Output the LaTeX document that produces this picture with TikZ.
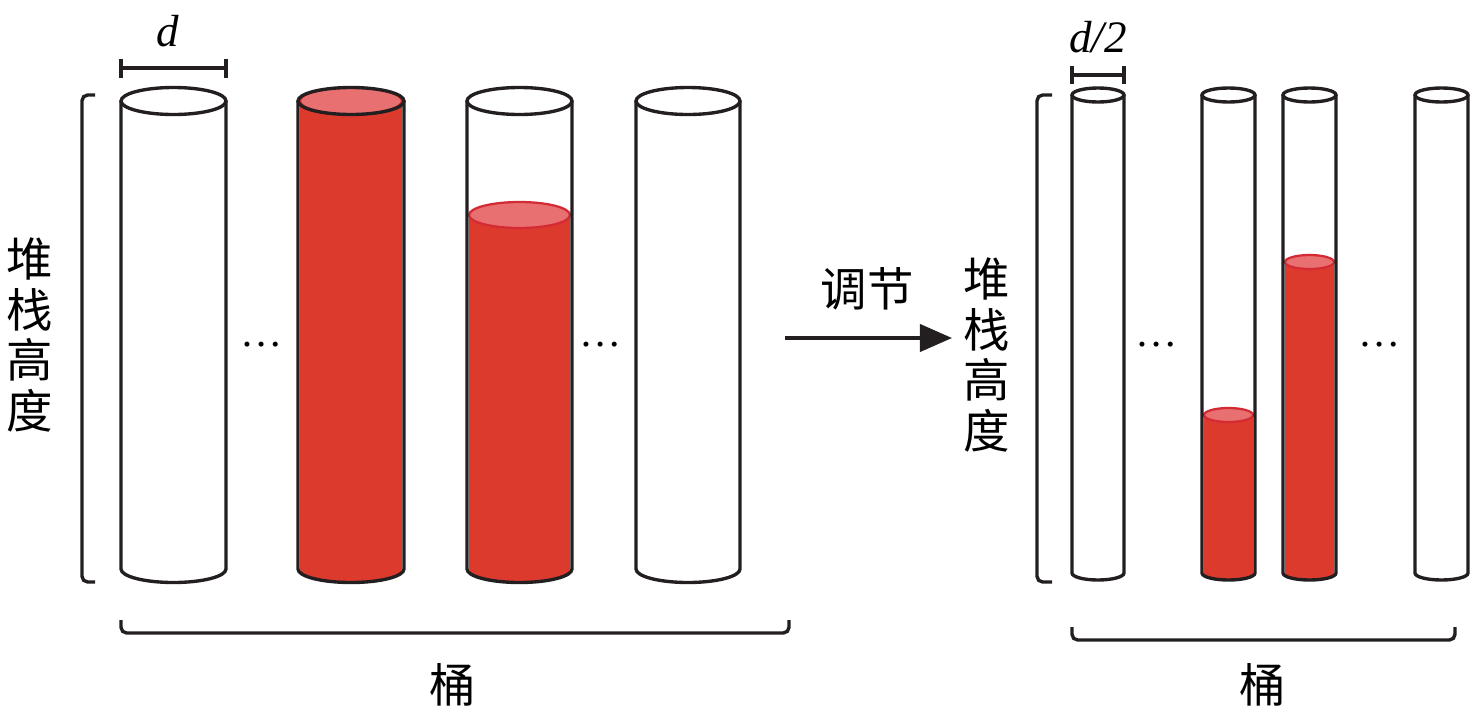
\documentclass[tikz,border=0pt]{standalone}
\usepackage{fontspec}
\newfontfamily\cjk{Noto Sans CJK SC}
\newfontfamily\tnr{Liberation Serif}
\usetikzlibrary{arrows.meta,positioning}

\definecolor{ink}{RGB}{35,31,32}
\definecolor{tubered}{RGB}{221,58,46}
\definecolor{tubetop}{RGB}{232,112,112}
\definecolor{tubeedge}{RGB}{212,42,52}

% tube outline: left x, width, y radius, top y, bottom y
\newcommand{\tube}[5]{%
  \draw[tubeline] (#1,#4) -- (#1,#5) arc[start angle=180,end angle=0,x radius=#2/2,y radius=#3] -- (#1+#2,#4);
  \draw[tubeline] (#1+#2/2,#4) ellipse[x radius=#2/2,y radius=#3];}
% red content: left x, width, y radius, level y, bottom y
\newcommand{\liquid}[5]{%
  \fill[liquid] (#1+2,#4) -- (#1+2,#5) arc[start angle=180,end angle=0,x radius=#2/2-2,y radius=#3] -- (#1+#2-2,#4) -- cycle;
  \filldraw[liquidtop] (#1+#2/2,#4) ellipse[x radius=#2/2-2,y radius=#3];}

\begin{document}
\begin{tikzpicture}[x=0.025cm,y=-0.025cm,
                    tubeline/.style={draw=ink,line width=2.4pt},
                    liquid/.style={fill=tubered},
                    liquidtop/.style={fill=tubetop,draw=tubeedge,line width=1.6pt},
                    bracket/.style={draw=ink,line width=2.4pt,rounded corners=4pt},
                    label/.style={inner sep=0pt,font=\cjk\fontsize{33}{36}\selectfont,align=center},
                    dimlabel/.style={inner sep=0pt,font=\tnr\itshape\fontsize{32}{36}\selectfont},
                    dots/.style={inner sep=0pt,font=\tnr\fontsize{30}{36}\selectfont}]
\useasboundingbox (0,0) rectangle (1476,718);

% left group
\liquid{298}{106}{13.5}{101}{569}
\liquid{467}{105}{13}{215}{569}
\tube{121}{105}{13.5}{101}{569}
\tube{298}{106}{13.5}{101}{569}
\tube{467}{105}{13.5}{101}{569}
\tube{636}{104}{13.5}{101}{569}

\node[dots] (ldots1) at (262,345) {…};
\node[dots] (ldots2) at (601,345) {…};

\draw[tubeline] (121,68) -- (226,68) (121,59) -- (121,78) (226,59) -- (226,78);
\node[dimlabel] (dl) at (168,31) {d};

\draw[bracket] (95,95) -- (82,95) -- (82,582) -- (95,582);
\node[label] (hl) at (30,335) {堆\\栈\\高\\度};
\draw[bracket] (121,620) -- (121,633) -- (789,633) -- (789,620);
\node[label] (bl) at (453,685) {桶};

% arrow
\coordinate (arrs) at (785,338);
\coordinate (arre) at (952,338);
\draw[draw=ink,line width=2.4pt,-{Triangle[length=0.8cm,width=0.68cm]}] (arrs) -- (arre);
\node[label] (adj) at (867,289) {调节};

% right group
\liquid{1202}{53}{7}{415}{573}
\liquid{1283}{53}{7}{262}{573}
\tube{1072}{52}{7}{95}{573}
\tube{1202}{53}{7}{95}{573}
\tube{1283}{53}{7}{95}{573}
\tube{1415}{53}{7}{95}{573}

\node[dots] (rdots1) at (1157,345) {…};
\node[dots] (rdots2) at (1380,345) {…};

\draw[tubeline] (1072,75) -- (1124,75) (1072,66) -- (1072,84) (1124,66) -- (1124,84);
\node[dimlabel] (dr) at (1098,37) {d/2};

\draw[bracket] (1052,95) -- (1037,95) -- (1037,582) -- (1052,582);
\node[label] (hr) at (987,355) {堆\\栈\\高\\度};
\draw[bracket] (1072,627) -- (1072,640) -- (1455,640) -- (1455,627);
\node[label] (br) at (1263,685) {桶};
\end{tikzpicture}
\end{document}
